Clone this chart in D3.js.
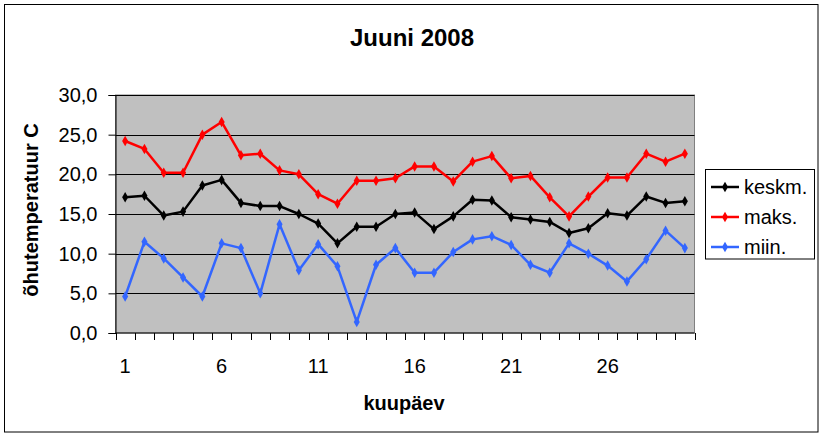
<!DOCTYPE html>
<html>
<head>
<meta charset="utf-8">
<script src="https://cdn.jsdelivr.net/npm/d3@7"></script>
<style>
html,body{margin:0;padding:0;background:#fff;}
svg{display:block;font-family:"Liberation Sans",Arial,sans-serif;}
</style>
</head>
<body>
<svg id="chart" width="825" height="438"></svg>
<script>
const days = [1,2,3,4,5,6,7,8,9,10,11,12,13,14,15,16,17,18,19,20,21,22,23,24,25,26,27,28,29,30];
const dayLabels = [1,6,11,16,21,26];
const keskm = [17.1,17.3,14.8,15.3,18.6,19.3,16.4,16.0,16.0,15.0,13.8,11.3,13.4,13.4,15.0,15.2,13.1,14.7,16.8,16.7,14.6,14.3,14.0,12.6,13.2,15.1,14.8,17.2,16.4,16.6];
const maks = [24.2,23.2,20.2,20.2,25.0,26.6,22.4,22.6,20.5,20.0,17.5,16.3,19.2,19.2,19.5,21.0,21.0,19.1,21.6,22.3,19.5,19.8,17.1,14.7,17.2,19.6,19.6,22.6,21.6,22.6];
const miin = [4.6,11.5,9.4,7.0,4.6,11.3,10.7,5.0,13.7,7.9,11.2,8.4,1.4,8.6,10.7,7.6,7.6,10.2,11.8,12.2,11.1,8.6,7.6,11.3,10.0,8.5,6.5,9.3,12.9,10.7];
const yTicks = [0,5,10,15,20,25,30];
const seriesNames = ["keskm.","maks.","miin."];
const seriesColors = ["#000000","#ff0000","#3366ff"];
const title = "Juuni 2008";
const xTitle = "kuupäev";
const yTitle = "õhutemperatuur C";

const series = [keskm, maks, miin].map((vals,i)=>({name:seriesNames[i], color:seriesColors[i], values:vals}));

const svg = d3.select("#chart");
const L = 115.5, R = 694.5, T = 95, B = 333;

// outer border
svg.append("rect").attr("x",4.5).attr("y",4.5).attr("width",813.5).attr("height",427.5)
  .attr("fill","#fff").attr("stroke","#000").attr("stroke-width",1);

const x = d3.scaleBand().domain(days).range([L,R]).padding(0);
const y = d3.scaleLinear().domain([0,30]).range([B,T]);

// plot background
svg.append("rect").attr("x",L).attr("y",T).attr("width",R-L).attr("height",B-T)
  .attr("fill","#c0c0c0").attr("stroke","#808080").attr("stroke-width",1);

// gridlines
svg.append("g").selectAll("line").data(yTicks.filter(d=>d>0)).join("line")
  .attr("x1",L).attr("x2",R).attr("y1",d=>Math.round(y(d))+0.5).attr("y2",d=>Math.round(y(d))+0.5)
  .attr("stroke","#000").attr("stroke-width",1);

// y axis
const yAxis = d3.axisLeft(y).tickValues(yTicks).tickSize(7).tickPadding(11)
  .tickFormat(d=>d3.format(".1f")(d).replace(".",","));
const gy = svg.append("g").attr("transform",`translate(${L},0)`).call(yAxis);
gy.select(".domain").attr("stroke","#000");
gy.selectAll(".tick line").attr("stroke","#000");
gy.selectAll("text").attr("font-size",20).attr("fill","#000")
  .attr("font-family","'Liberation Sans',Arial,sans-serif");

// x axis: ticks at band boundaries
const bounds = days.map(d=>x(d)).concat([R]);
const gx = svg.append("g");
gx.append("line").attr("x1",L).attr("x2",R).attr("y1",B).attr("y2",B).attr("stroke","#000");
gx.selectAll("line.tk").data(bounds).join("line").attr("class","tk")
  .attr("x1",d=>Math.round(d)+0.5).attr("x2",d=>Math.round(d)+0.5).attr("y1",B).attr("y2",B+7)
  .attr("stroke","#000");
gx.selectAll("text").data(dayLabels).join("text")
  .attr("x",d=>x(d)+x.bandwidth()/2).attr("y",373)
  .attr("text-anchor","middle").attr("font-size",20).attr("fill","#000").text(d=>d);

// lines
const line = d3.line().x((d,i)=>x(days[i])+x.bandwidth()/2).y(d=>y(d));
const diamond = d3.symbol().type(d3.symbolDiamond).size(32);
series.forEach(s=>{
  svg.append("path").datum(s.values).attr("d",line).attr("fill","none")
    .attr("stroke",s.color).attr("stroke-width",2.5).attr("stroke-linejoin","round");
  svg.append("g").selectAll("path").data(s.values).join("path")
    .attr("d",diamond)
    .attr("transform",(d,i)=>`translate(${x(days[i])+x.bandwidth()/2},${y(d)})`)
    .attr("fill",s.color);
});

// title
svg.append("text").attr("x",412).attr("y",46).attr("text-anchor","middle")
  .attr("font-size",24).attr("font-weight","bold").text(title);
svg.append("text").attr("x",404).attr("y",410).attr("text-anchor","middle")
  .attr("font-size",20).attr("font-weight","bold").text(xTitle);
svg.append("text").attr("transform","translate(38,210) rotate(-90)").attr("text-anchor","middle")
  .attr("font-size",20).attr("font-weight","bold").text(yTitle);

// legend
const lg = svg.append("g");
lg.append("rect").attr("x",705.5).attr("y",169.5).attr("width",109).attr("height",89.5)
  .attr("fill","#fff").attr("stroke","#000");
series.forEach((s,i)=>{
  const cy = 187 + i*30;
  lg.append("line").attr("x1",711).attr("x2",739).attr("y1",cy).attr("y2",cy)
    .attr("stroke",s.color).attr("stroke-width",2.5);
  lg.append("path").attr("d",diamond).attr("transform",`translate(725,${cy})`).attr("fill",s.color);
  lg.append("text").attr("x",744).attr("y",cy+7).attr("font-size",20).text(s.name);
});
</script>
</body>
</html>
